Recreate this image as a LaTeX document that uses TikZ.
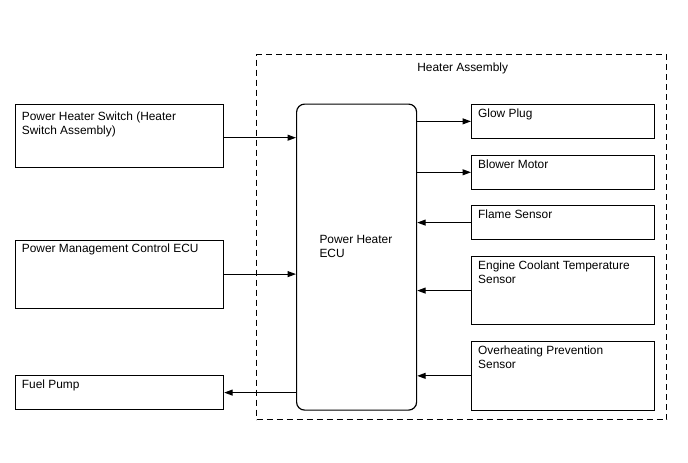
\documentclass[tikz,border=0pt]{standalone}
\usepackage{fontspec}
\setmainfont{Liberation Sans}
\usetikzlibrary{arrows.meta,calc}
\begin{document}
\begin{tikzpicture}[x=1pt,y=-1pt,
  box/.style={draw=black,line width=1.2pt,inner sep=0pt,anchor=north west},
  lbl/.style={anchor=north west,inner sep=0pt,align=left,font=\fontsize{11.9}{13.6}\selectfont},
  arr/.style={draw=black,line width=1.1pt,-{Triangle[length=8.5pt,width=6pt]}},
  grp/.style={draw=black,line width=1.3pt,dash pattern=on 6pt off 4pt}]
\useasboundingbox (0,0) rectangle (688,463);
% group
\node[grp,inner sep=0pt,anchor=north west,minimum width=410pt,minimum height=365pt] (grp) at (256,54) {};
\node[anchor=base,inner sep=0pt,font=\fontsize{11.9}{13.6}\selectfont] (grplbl) at (462.7,71) {Heater Assembly};
% left boxes
\node[box,minimum width=208pt,minimum height=63pt] (sw) at (15,104) {};
\node[box,minimum width=208pt,minimum height=68pt] (pmc) at (15,239.5) {};
\node[box,minimum width=208pt,minimum height=34pt] (fp) at (15,375) {};
% ECU
\node[box,rounded corners=8pt,minimum width=120pt,minimum height=306pt] (ecu) at (296,103.5) {};
% right boxes
\node[box,minimum width=183pt,minimum height=34.5pt] (gp) at (471,103.5) {};
\node[box,minimum width=183pt,minimum height=34pt] (bm) at (471,154.7) {};
\node[box,minimum width=183pt,minimum height=34pt] (fs) at (471,205) {};
\node[box,minimum width=183pt,minimum height=68pt] (ect) at (471,256) {};
\node[box,minimum width=183pt,minimum height=68.5pt] (ohp) at (471,341) {};
% labels
\node[lbl] (swl) at ($(sw.north west)+(6.7,16.3-11)$) {\rule{0pt}{11pt}Power Heater Switch (Heater\\Switch Assembly)};
\node[lbl] (pmcl) at ($(pmc.north west)+(6.7,13.2-11)$) {\rule{0pt}{11pt}Power Management Control ECU};
\node[lbl] (fpl) at ($(fp.north west)+(6.7,13.6-11)$) {\rule{0pt}{11pt}Fuel Pump};
\node[lbl] (ecul) at (319.3,243.7-11) {\rule{0pt}{11pt}Power Heater\\ECU};
\node[lbl] (gpl) at ($(gp.north west)+(7,13.8-11)$) {\rule{0pt}{11pt}Glow Plug};
\node[lbl] (bml) at ($(bm.north west)+(7,13.6-11)$) {\rule{0pt}{11pt}Blower Motor};
\node[lbl] (fsl) at ($(fs.north west)+(7,13.6-11)$) {\rule{0pt}{11pt}Flame Sensor};
\node[lbl] (ectl) at ($(ect.north west)+(7,13.6-11)$) {\rule{0pt}{11pt}Engine Coolant Temperature\\Sensor};
\node[lbl] (ohpl) at ($(ohp.north west)+(7,13.4-11)$) {\rule{0pt}{11pt}Overheating Prevention\\Sensor};
% connectors
\draw[arr] (sw.east |- 0,137.7) -- (ecu.west |- 0,137.7);
\draw[arr] (pmc.east) -- (pmc.east -| ecu.west);
\draw[arr] (fp.east -| ecu.west) -- (fp.east);
\draw[arr] (gp.west -| ecu.east) -- (gp.west);
\draw[arr] (bm.west -| ecu.east) -- (bm.west);
\draw[arr] (fs.west) -- (fs.west -| ecu.east);
\draw[arr] (ect.west) -- (ect.west -| ecu.east);
\draw[arr] (ohp.west) -- (ohp.west -| ecu.east);
\end{tikzpicture}
\end{document}
